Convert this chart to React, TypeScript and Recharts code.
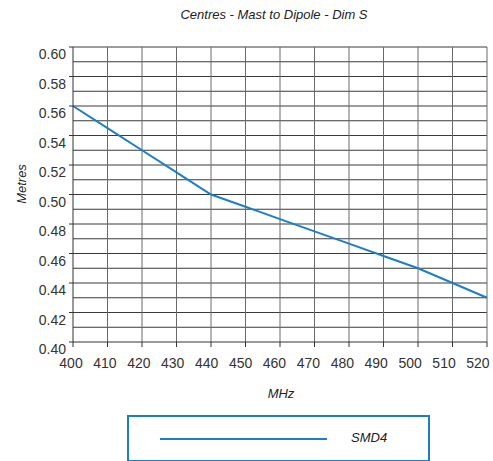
import { LineChart, Line, XAxis, YAxis, ReferenceLine } from 'recharts'

const mhz = [400, 410, 420, 430, 440, 450, 460, 470, 480, 490, 500, 510, 520]
const metres = [0.56, 0.545, 0.53, 0.515, 0.5, 0.4917, 0.4833, 0.475, 0.4667, 0.4583, 0.45, 0.44, 0.43]
const yTicks = [0.4, 0.42, 0.44, 0.46, 0.48, 0.5, 0.52, 0.54, 0.56, 0.58, 0.6]
const yGrid = [0.41, 0.42, 0.43, 0.44, 0.45, 0.46, 0.47, 0.48, 0.49, 0.5, 0.51, 0.52, 0.53, 0.54, 0.55, 0.56, 0.57, 0.58, 0.59, 0.6]
const xGrid = [410, 420, 430, 440, 450, 460, 470, 480, 490, 500, 510, 520]

const data = mhz.map((m, i) => ({ mhz: m, smd4: metres[i] }))

const font = '"Liberation Sans", Arial, sans-serif'
const blue = '#1a7fc8'

function XTick(props: any) {
  const { x, y, payload } = props
  // labels sit a little left of their ticks in the original, more so to the right
  const lx = 71 + (x - 73) * 0.983
  return (
    <text x={lx} y={y + 19} textAnchor="middle" fontSize={14} fontFamily={font} fill="#333">
      {payload.value}
    </text>
  )
}

function YTick(props: any) {
  const { x, y, payload } = props
  return (
    <text x={x - 1} y={y + 12} textAnchor="end" fontSize={14} fontFamily={font} fill="#333">
      {Number(payload.value).toFixed(2)}
    </text>
  )
}

export default function App() {
  return (
    <div style={{ position: 'absolute', left: 0, top: 0, width: 493, height: 461, background: '#fff', fontFamily: font }}>
      <LineChart width={493} height={461} data={data} margin={{ top: 47, right: 6, left: 11, bottom: 89 }}>
        {yGrid.map((v) => (
          <ReferenceLine key={'y' + v} y={v} stroke="#3a3a3a" strokeWidth={1} />
        ))}
        {xGrid.map((v) => (
          <ReferenceLine key={'x' + v} x={v} stroke="#6a6a6a" strokeWidth={1} />
        ))}
        <XAxis
          dataKey="mhz"
          type="number"
          domain={[400, 520]}
          ticks={mhz}
          interval={0}
          stroke="#333"
          tickSize={5}
          tick={<XTick />}
        />
        <YAxis
          type="number"
          domain={[0.4, 0.6]}
          ticks={yTicks}
          interval={0}
          width={62}
          stroke="#333"
          tickSize={4}
          tick={<YTick />}
        />
        <Line type="linear" dataKey="smd4" stroke={blue} strokeWidth={2} dot={false} isAnimationActive={false} />
      </LineChart>
      <div style={{ position: 'absolute', left: 0, top: 7, width: 548, textAlign: 'center', fontSize: 13, fontStyle: 'italic', color: '#222' }}>
        Centres - Mast to Dipole - Dim S
      </div>
      <div style={{ position: 'absolute', left: 0, top: 386, width: 562, textAlign: 'center', fontSize: 13, fontStyle: 'italic', color: '#222' }}>
        MHz
      </div>
      <div style={{ position: 'absolute', left: 21, top: 184, transform: 'translate(-50%, -50%) rotate(-90deg)', fontSize: 13, fontStyle: 'italic', color: '#222', whiteSpace: 'nowrap' }}>
        Metres
      </div>
      <div style={{ position: 'absolute', left: 127, top: 415, width: 299, height: 43, border: `2px solid ${blue}`, boxSizing: 'content-box' }}>
        <div style={{ position: 'absolute', left: 31, top: 21, width: 167, height: 2, background: blue }} />
        <div style={{ position: 'absolute', left: 222, top: 13, fontSize: 13, fontStyle: 'italic', color: '#222' }}>SMD4</div>
      </div>
    </div>
  )
}
